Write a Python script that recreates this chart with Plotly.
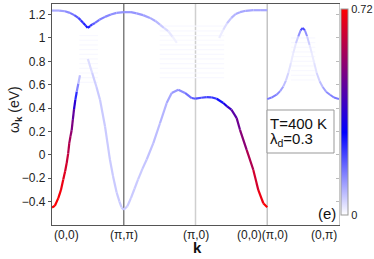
import plotly.graph_objects as go
from plotly.colors import sample_colorscale

# ---------------- data ----------------
# k-path coordinate: 0=(0,0) 1=(pi,pi) 2=(pi,0) 3=(0,0)|(pi,0) 4=(0,pi)
path_pos = [0, 1, 2, 3, 4]
path_labels = ["(0,0)", "(π,π)", "(π,0)", "(0,0)(π,0)", "(0,π)"]

y_ticks = [-0.4, -0.2, 0, 0.2, 0.4, 0.6, 0.8, 1, 1.2]

# strong band rising from (0,0)
bandA_k = [0.0, 0.04, 0.088, 0.125, 0.157, 0.183, 0.205, 0.225, 0.241, 0.258,
           0.274, 0.29, 0.307, 0.325, 0.345, 0.367, 0.39]
bandA_w = [-0.45, -0.435, -0.37, -0.30, -0.21, -0.14, -0.07, 0.01, 0.10, 0.16,
           0.21, 0.30, 0.39, 0.47, 0.54, 0.61, 0.68]
bandA_s = [0.72, 0.72, 0.71, 0.70, 0.68, 0.66, 0.64, 0.61, 0.58, 0.55,
           0.52, 0.48, 0.42, 0.30, 0.18, 0.10, 0.05]

# band dropping to (pi,pi), over (pi,0), down to (0,0)
bandB_k = [0.50, 0.56, 0.62, 0.669, 0.739, 0.808, 0.85, 0.90, 0.94, 0.97, 1.0,
           1.05, 1.10, 1.15, 1.20, 1.26, 1.32, 1.412, 1.505, 1.598, 1.668, 1.76,
           1.854, 1.947, 2.0, 2.08, 2.156, 2.22, 2.295, 2.387, 2.44, 2.50, 2.574,
           2.62, 2.713, 2.806, 2.875, 2.945, 3.0]
bandB_w = [0.82, 0.70, 0.58, 0.471, 0.243, -0.043, -0.18, -0.32, -0.40, -0.45, -0.47,
           -0.44, -0.37, -0.29, -0.21, -0.12, -0.04, 0.10, 0.27, 0.443, 0.529, 0.557,
           0.529, 0.486, 0.48, 0.488, 0.494, 0.492, 0.48, 0.443, 0.415, 0.386, 0.314,
           0.214, 0.043, -0.129, -0.30, -0.414, -0.448]
bandB_s = [0.03, 0.05, 0.06, 0.06, 0.06, 0.06, 0.06, 0.06, 0.06, 0.06, 0.06,
           0.06, 0.06, 0.06, 0.06, 0.06, 0.07, 0.07, 0.08, 0.09, 0.11, 0.12,
           0.14, 0.18, 0.20, 0.20, 0.21, 0.22, 0.24, 0.30, 0.36, 0.42, 0.46,
           0.49, 0.55, 0.62, 0.67, 0.71, 0.72]

# upper flat band near 1.2 eV (left part)
bandC_k = [0.0, 0.1, 0.18, 0.25, 0.31, 0.367, 0.40, 0.436, 0.47, 0.497, 0.53, 0.56,
           0.60, 0.66, 0.739, 0.82, 0.90, 1.0, 1.1, 1.18, 1.27, 1.366, 1.44, 1.505,
           1.56, 1.62, 1.68, 1.74]
bandC_w = [1.234, 1.234, 1.228, 1.214, 1.195, 1.171, 1.152, 1.128, 1.105, 1.086, 1.10,
           1.115, 1.128, 1.155, 1.18, 1.20, 1.214, 1.22, 1.22, 1.21, 1.195, 1.171,
           1.145, 1.114, 1.085, 1.057, 1.01, 0.957]
bandC_s = [0.09, 0.10, 0.12, 0.14, 0.17, 0.20, 0.22, 0.24, 0.26, 0.27, 0.24, 0.20,
           0.17, 0.15, 0.14, 0.13, 0.12, 0.12, 0.12, 0.12, 0.11, 0.10, 0.09, 0.07,
           0.05, 0.035, 0.02, 0.012]

# upper flat band (segment (pi,0)->(0,0))
bandD_k = [2.33, 2.387, 2.44, 2.50, 2.56, 2.62, 2.70, 2.806, 2.90, 3.0]
bandD_w = [1.00, 1.07, 1.125, 1.171, 1.205, 1.22, 1.232, 1.237, 1.237, 1.237]
bandD_s = [0.012, 0.03, 0.05, 0.08, 0.09, 0.10, 0.10, 0.10, 0.10, 0.10]

# right panel (pi,0)->(0,pi)
bandE_k = [3.0, 3.06, 3.13, 3.18, 3.224, 3.26, 3.294, 3.33, 3.363, 3.40, 3.433,
           3.465, 3.494, 3.525, 3.555, 3.59, 3.62, 3.655, 3.689, 3.73, 3.773, 3.82,
           3.875, 3.93, 4.0]
bandE_w = [0.477, 0.49, 0.514, 0.545, 0.585, 0.635, 0.70, 0.785, 0.871, 0.955, 1.014,
           1.065, 1.086, 1.065, 1.014, 0.94, 0.871, 0.785, 0.70, 0.63, 0.58, 0.54,
           0.514, 0.49, 0.477]
bandE_s = [0.15, 0.15, 0.14, 0.12, 0.09, 0.06, 0.04, 0.025, 0.02, 0.035, 0.08,
           0.17, 0.24, 0.17, 0.08, 0.035, 0.02, 0.025, 0.04, 0.06, 0.09, 0.12,
           0.14, 0.15, 0.15]

# faint horizontal incoherent stripes: (k_start, k_end, levels)
stripesA_k = [0.38, 0.64]
stripesA_w = [0.62, 0.66, 0.70, 0.74, 0.78, 0.82, 0.86, 0.90, 0.94, 0.98, 1.02]
stripesB_k = [1.50, 2.40]
stripesB_w = [0.66, 0.70, 0.74, 0.78, 0.82, 0.86, 0.90, 0.94, 0.98, 1.02, 1.06, 1.10]
stripesC_k = [3.33, 3.67]
stripesC_w = [0.64, 0.68, 0.72, 0.76, 0.80, 0.84, 0.88, 0.92, 0.96, 1.00]
stripe_s = 0.008

T_label = "T=400 K"
lam_label = "λ<sub>d</sub>=0.3"
panel_label = "(e)"
cmin, cmax = 0.0, 0.72

# ---------------- styling ----------------
FONT = "Liberation Sans, Arial, sans-serif"
cscale = [[0.0, "rgb(255,255,255)"], [0.4, "rgb(0,0,255)"], [1.0, "rgb(255,0,0)"]]


def col(s):
    f = min(max((s - cmin) / (cmax - cmin), 0.0), 1.0)
    return sample_colorscale(cscale, [f])[0]


fig = go.Figure()


def add_stripes(kr, levels):
    xs, ys = [], []
    for lv in levels:
        xs += [kr[0], kr[1], None]
        ys += [lv, lv, None]
    fig.add_trace(go.Scatter(x=xs, y=ys, mode="lines",
                             line=dict(color=col(stripe_s), width=1.2),
                             hoverinfo="skip", showlegend=False))


def add_band(ks, ws, ss, width):
    for i in range(len(ks) - 1):
        fig.add_trace(go.Scatter(x=[ks[i], ks[i + 1]], y=[ws[i], ws[i + 1]],
                                 mode="lines",
                                 line=dict(color=col((ss[i] + ss[i + 1]) / 2), width=width),
                                 hoverinfo="skip", showlegend=False))


add_stripes(stripesA_k, stripesA_w)
add_stripes(stripesB_k, stripesB_w)
add_stripes(stripesC_k, stripesC_w)
add_band(bandC_k, bandC_w, bandC_s, 2.2)
add_band(bandD_k, bandD_w, bandD_s, 2.2)
add_band(bandE_k, bandE_w, bandE_s, 2.0)
add_band(bandB_k, bandB_w, bandB_s, 2.2)
add_band(bandA_k, bandA_w, bandA_s, 2.2)

# colour bar carrier (invisible markers)
fig.add_trace(go.Scatter(
    x=bandA_k, y=bandA_w, mode="markers", yaxis="y2",
    marker=dict(size=1, opacity=0, color=bandA_s, colorscale=cscale, cmin=cmin, cmax=cmax,
                showscale=True,
                colorbar=dict(thickness=7, lenmode="pixels", len=206,
                              yanchor="top", y=0.977, x=1.0, xanchor="left",
                              xpad=2, ypad=0, outlinewidth=1, outlinecolor="#999",
                              tickvals=[0, 0.72], ticktext=["0", "0.72"], ticks="",
                              tickfont=dict(size=11, color="#222", family=FONT))),
    hoverinfo="skip", showlegend=False))

W, H = 374, 259
ML, MR, MT, MB = 52, 35, 4, 34
yr = [-0.6, 1.29]

fig.update_layout(
    width=W, height=H,
    margin=dict(l=ML, r=MR, t=MT, b=MB, autoexpand=False),
    paper_bgcolor="white", plot_bgcolor="white",
    font=dict(family=FONT, size=12, color="#222"),
    xaxis=dict(range=[0, 4], showgrid=False, zeroline=False, showticklabels=False,
               ticks="", showline=True, linecolor="#555", linewidth=1.3, mirror=True),
    yaxis=dict(range=yr, tickvals=y_ticks, showgrid=False, zeroline=False,
               ticks="outside", ticklen=3, tickcolor="#555", showline=True,
               linecolor="#555", linewidth=1.3,
               tickfont=dict(size=12, color="#222", family=FONT)),
    yaxis2=dict(range=yr, overlaying="y", side="right", tickvals=y_ticks,
                showticklabels=False, ticks="inside", ticklen=3, tickcolor="#bbb",
                showline=True, linecolor="#c8c8c8", linewidth=1.3,
                showgrid=False, zeroline=False),
)

# vertical separators at high-symmetry points
sep_colors = {1: "#808080", 2: "#cfcfcf", 3: "#c4c4c4"}
for p in path_pos[1:4]:
    fig.add_shape(type="line", xref="x", yref="paper", x0=p, x1=p, y0=0, y1=1,
                  line=dict(color=sep_colors[p], width=1.5), layer="below")

# x tick labels
anchors = ["left", "center", "center", "center", "right"]
shifts = [0, 0, 0, -5, 0]
for p, lab, a, s in zip(path_pos, path_labels, anchors, shifts):
    fig.add_annotation(x=p, y=0, xref="x", yref="paper", text=lab, showarrow=False,
                       xanchor=a, yanchor="top", xshift=s, yshift=-1,
                       font=dict(size=12, color="#222", family=FONT))

# axis titles
fig.add_annotation(x=(197 - ML) / 287, y=(225 - 247) / 221, xref="paper", yref="paper",
                   text="<b>k</b>", showarrow=False, xanchor="center", yanchor="middle",
                   font=dict(size=15, color="#111", family=FONT))
fig.add_annotation(x=(15 - ML) / 287, y=(225 - 110) / 221, xref="paper", yref="paper",
                   text="ω<sub><b>k</b></sub> (eV)", showarrow=False, textangle=-90,
                   xanchor="center", yanchor="middle",
                   font=dict(size=14, color="#222", family=FONT))

# info box
fig.add_shape(type="rect", xref="paper", yref="paper",
              x0=(267 - ML) / 287, x1=(334 - ML) / 287,
              y0=(225 - 153) / 221, y1=(225 - 110) / 221,
              line=dict(color="#999", width=1), fillcolor="white", layer="above")
fig.add_annotation(x=(268 - ML) / 287, y=(225 - 123) / 221, xref="paper", yref="paper",
                   text=T_label, showarrow=False, xanchor="left", yanchor="middle",
                   font=dict(size=15, color="#111", family=FONT))
fig.add_annotation(x=(268 - ML) / 287, y=(225 - 139) / 221, xref="paper", yref="paper",
                   text=lam_label, showarrow=False, xanchor="left", yanchor="middle",
                   font=dict(size=15, color="#111", family=FONT))
fig.add_annotation(x=(327 - ML) / 287, y=(225 - 213) / 221, xref="paper", yref="paper",
                   text=panel_label, showarrow=False, xanchor="center", yanchor="middle",
                   font=dict(size=15, color="#111", family=FONT))

fig.write_html("out.html", config={"displayModeBar": False},
               post_script="document.body.style.margin='0';document.body.style.overflow='hidden';")
